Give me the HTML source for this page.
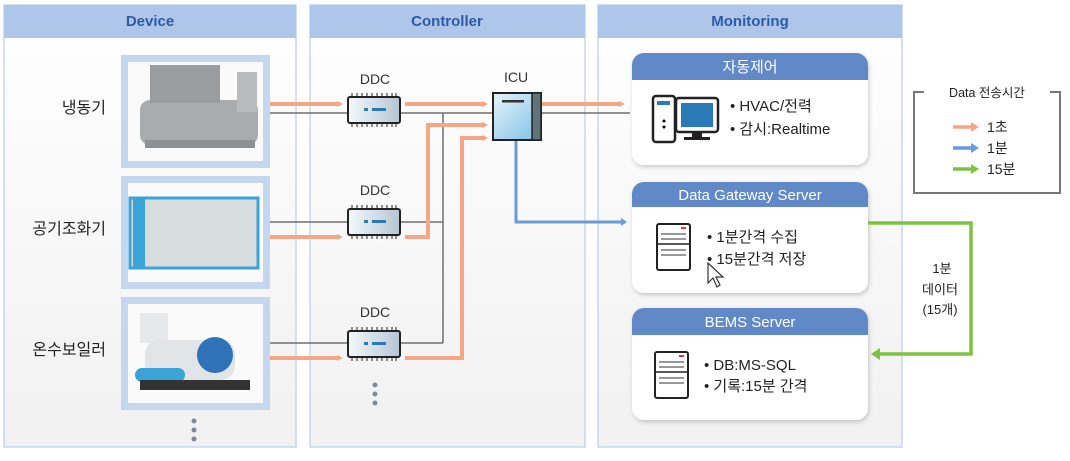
<!DOCTYPE html>
<html><head><meta charset="utf-8"><style>
body{margin:0;background:#fff;}
svg{display:block;font-family:"Liberation Sans","Noto Sans CJK KR",sans-serif;}
</style></head><body>
<svg width="1070" height="461" viewBox="0 0 1070 461">
<defs>
<linearGradient id="pg" x1="0" y1="0" x2="0" y2="1"><stop offset="0" stop-color="#ffffff"/><stop offset="1" stop-color="#f1f1f1"/></linearGradient>
<linearGradient id="chip" x1="0" y1="0" x2="1" y2="0"><stop offset="0" stop-color="#f4f8fb"/><stop offset="1" stop-color="#b6c6d4"/></linearGradient>
<linearGradient id="icu" x1="0" y1="0" x2="1" y2="1"><stop offset="0" stop-color="#e8f4fb"/><stop offset="1" stop-color="#7cc0e6"/></linearGradient>
<marker id="ao" markerWidth="6" markerHeight="6" refX="3" refY="3" orient="auto" markerUnits="userSpaceOnUse"><path d="M0,0 L6,3 L0,6Z" fill="#f6a585"/></marker>
<filter id="sh" x="-5%" y="-5%" width="110%" height="115%"><feDropShadow dx="1" dy="2" stdDeviation="2" flood-color="#000" flood-opacity="0.2"/></filter>
</defs>
<g stroke="#c5d6ef" stroke-width="1.5">
<rect x="4" y="5" width="292" height="442" fill="url(#pg)"/>
<rect x="310" y="5" width="275" height="442" fill="url(#pg)"/>
<rect x="598" y="5" width="304" height="442" fill="url(#pg)"/>
</g>
<g fill="#adc6e9">
<rect x="4" y="5" width="292" height="33"/><rect x="310" y="5" width="275" height="33"/><rect x="598" y="5" width="304" height="33"/>
</g>
<g fill="#2d5ba8" font-weight="bold" font-size="15" text-anchor="middle">
<text x="150" y="26">Device</text><text x="447" y="26">Controller</text><text x="750" y="26">Monitoring</text>
</g>
<g>
<rect x="121" y="55" width="149" height="113" fill="#c5d6ef"/><rect x="128" y="62" width="135" height="99" fill="#fafafa"/>
<rect x="140" y="100" width="118" height="45" rx="10" fill="#a9acae"/><rect x="150" y="65" width="70" height="38" fill="#9a9da0"/><rect x="237" y="72" width="20" height="40" fill="#b8bbbd"/><rect x="145" y="140" width="110" height="8" fill="#8e9194"/>
<rect x="121" y="176" width="149" height="113" fill="#c5d6ef"/><rect x="128" y="183" width="135" height="99" fill="#fafafa"/>
<rect x="130" y="198" width="128" height="70" fill="#d7dcdf" stroke="#3aa3d8" stroke-width="3"/><rect x="133" y="198" width="12" height="70" fill="#3aa3d8"/>
<rect x="121" y="297" width="149" height="113" fill="#c5d6ef"/><rect x="128" y="304" width="135" height="99" fill="#fafafa"/>
<rect x="140" y="313" width="28" height="30" fill="#e6e8ea"/><rect x="145" y="340" width="90" height="40" rx="14" fill="#e2e5e8"/><circle cx="215" cy="355" r="18" fill="#2f72b8"/><rect x="135" y="368" width="50" height="14" rx="7" fill="#3aa3d8"/><rect x="140" y="380" width="110" height="10" fill="#333"/>
</g>
<g font-size="16" fill="#222" text-anchor="end">
<text x="106" y="113">냉동기</text><text x="106" y="234">공기조화기</text><text x="106" y="355">온수보일러</text>
</g>
<g fill="#7d8a9a"><circle cx="194" cy="421" r="2.5"/><circle cx="194" cy="430" r="2.5"/><circle cx="194" cy="439" r="2.5"/>
<circle cx="375" cy="385" r="2.5"/><circle cx="375" cy="394" r="2.5"/><circle cx="375" cy="403" r="2.5"/></g>
<g stroke="#6f6f6f" stroke-width="1.5" fill="none">
<path d="M270 113 H630"/><path d="M270 222 H443"/><path d="M270 343 H443"/><path d="M443 113 V343"/>
</g>
<g stroke="#f6a585" stroke-width="4" fill="none" marker-end="url(#ao)">
<path d="M270 104 H340"/><path d="M405 104 H485"/><path d="M541 104 H622"/>
<path d="M270 237 H340"/><path d="M405 237 H428 V125 H485"/>
<path d="M270 358 H340"/><path d="M405 358 H462 V138 H485"/>
</g>
<path d="M516 140 V222 H622" stroke="#6a9bd8" stroke-width="3" fill="none"/><path d="M621 218 L627 222 L621 226Z" fill="#6a9bd8"/>
<g font-size="14" fill="#333" text-anchor="middle"><text x="375" y="84">DDC</text><text x="375" y="195">DDC</text><text x="375" y="317">DDC</text><text x="516" y="82">ICU</text></g>
<g>
<g transform="translate(348,97)"><rect x="0" y="0" width="52" height="26" rx="2" fill="url(#chip)" stroke="#222" stroke-width="2"/><path d="M4 -4V0M9 -4V0M14 -4V0M19 -4V0M24 -4V0M29 -4V0M34 -4V0M39 -4V0M44 -4V0M48 -4V0M4 26V30M9 26V30M14 26V30M19 26V30M24 26V30M29 26V30M34 26V30M39 26V30M44 26V30M48 26V30" stroke="#222"/><rect x="16" y="11" width="4" height="3" fill="#2a7ab8"/><rect x="24" y="11" width="14" height="3" fill="#2a7ab8"/></g>
<g transform="translate(348,209)"><rect x="0" y="0" width="52" height="26" rx="2" fill="url(#chip)" stroke="#222" stroke-width="2"/><path d="M4 -4V0M9 -4V0M14 -4V0M19 -4V0M24 -4V0M29 -4V0M34 -4V0M39 -4V0M44 -4V0M48 -4V0M4 26V30M9 26V30M14 26V30M19 26V30M24 26V30M29 26V30M34 26V30M39 26V30M44 26V30M48 26V30" stroke="#222"/><rect x="16" y="11" width="4" height="3" fill="#2a7ab8"/><rect x="24" y="11" width="14" height="3" fill="#2a7ab8"/></g>
<g transform="translate(348,331)"><rect x="0" y="0" width="52" height="26" rx="2" fill="url(#chip)" stroke="#222" stroke-width="2"/><path d="M4 -4V0M9 -4V0M14 -4V0M19 -4V0M24 -4V0M29 -4V0M34 -4V0M39 -4V0M44 -4V0M48 -4V0M4 26V30M9 26V30M14 26V30M19 26V30M24 26V30M29 26V30M34 26V30M39 26V30M44 26V30M48 26V30" stroke="#222"/><rect x="16" y="11" width="4" height="3" fill="#2a7ab8"/><rect x="24" y="11" width="14" height="3" fill="#2a7ab8"/></g>
<rect x="493" y="93" width="48" height="47" fill="url(#icu)" stroke="#222" stroke-width="2"/><rect x="532" y="93" width="9" height="47" fill="#5e7478" stroke="#222" stroke-width="1.5"/><rect x="502" y="100" width="22" height="2.5" fill="#333"/>
</g>
<g filter="url(#sh)">
<rect x="632" y="53" width="236" height="112" rx="12" fill="#fff"/>
<rect x="632" y="182" width="236" height="111" rx="12" fill="#fff"/>
<rect x="632" y="308" width="236" height="112" rx="12" fill="#fff"/>
</g>
<g fill="#6189c7">
<path d="M644 53 H856 A12 12 0 0 1 868 65 V80 H632 V65 A12 12 0 0 1 644 53Z"/>
<path d="M644 182 H856 A12 12 0 0 1 868 194 V207 H632 V194 A12 12 0 0 1 644 182Z"/>
<path d="M644 308 H856 A12 12 0 0 1 868 320 V335 H632 V320 A12 12 0 0 1 644 308Z"/>
</g>
<g fill="#fff" font-size="15" text-anchor="middle"><text x="750" y="72">자동제어</text><text x="750" y="200">Data Gateway Server</text><text x="750" y="327">BEMS Server</text></g>
<rect x="653" y="96" width="22" height="46" rx="3" fill="#fff" stroke="#222" stroke-width="2.5"/><rect x="657" y="101" width="13" height="4" fill="#2a7ab8"/><circle cx="664" cy="121" r="1.5"/><circle cx="664" cy="127" r="1.5"/>
<rect x="676" y="98" width="42" height="34" rx="3" fill="#fff" stroke="#222" stroke-width="2.5"/><rect x="681" y="103" width="32" height="24" fill="#2a7ab8"/><rect x="692" y="132" width="10" height="5" fill="#222"/><rect x="684" y="137" width="26" height="3" fill="#222"/>
<g font-size="15" fill="#222"><text x="730" y="111">• HVAC/전력</text><text x="730" y="134">• 감시:Realtime</text>
<text x="707" y="242">• 1분간격 수집</text><text x="707" y="264">• 15분간격 저장</text>
<text x="704" y="370">• DB:MS-SQL</text><text x="704" y="391">• 기록:15분 간격</text></g>
<g fill="#fff" stroke="#222" stroke-width="2">
<rect x="657" y="224" width="33" height="46" rx="2"/><rect x="655" y="352" width="33" height="46" rx="2"/>
</g>
<g stroke="#999" stroke-width="2"><path d="M661 234H686M661 239H686M661 250H686M661 255H686M659 362H684M659 367H684M659 378H684M659 383H684"/></g>
<g stroke="#222" stroke-width="1.5"><path d="M657 244H690M655 372H688"/></g>
<g fill="#e33"><rect x="681" y="227" width="5" height="2"/><rect x="679" y="355" width="5" height="2"/></g>
<path d="M708 263 L708 283 L713 278 L717 287 L720 285 L716 277 L723 277Z" fill="#fff" stroke="#333" stroke-width="1.2"/>
<path d="M868 223 H971 V354 H878" stroke="#7ec243" stroke-width="3.5" fill="none"/><path d="M880 348 L871 354 L880 360Z" fill="#7ec243"/>
<g font-size="13" fill="#222" text-anchor="middle"><text x="942" y="273">1분</text><text x="940" y="294">데이터</text><text x="940" y="314">(15개)</text></g>
<path d="M924 92 H914 V193 H1060 V92 H1050" stroke="#777" stroke-width="2" fill="none"/>
<text x="987" y="97" font-size="12.5" fill="#222" text-anchor="middle">Data 전송시간</text>
<g stroke-width="3.5" fill="none"><path d="M953 127 H972" stroke="#f6a585"/><path d="M953 148 H972" stroke="#6a9bd8"/><path d="M953 169 H972" stroke="#7ec243"/></g>
<path d="M971 122 L979 127 L971 132Z" fill="#f6a585"/><path d="M971 143 L979 148 L971 153Z" fill="#6a9bd8"/><path d="M971 164 L979 169 L971 174Z" fill="#7ec243"/>
<g font-size="14" fill="#222"><text x="987" y="132">1초</text><text x="987" y="153">1분</text><text x="987" y="174">15분</text></g>
</svg>
</body></html>
